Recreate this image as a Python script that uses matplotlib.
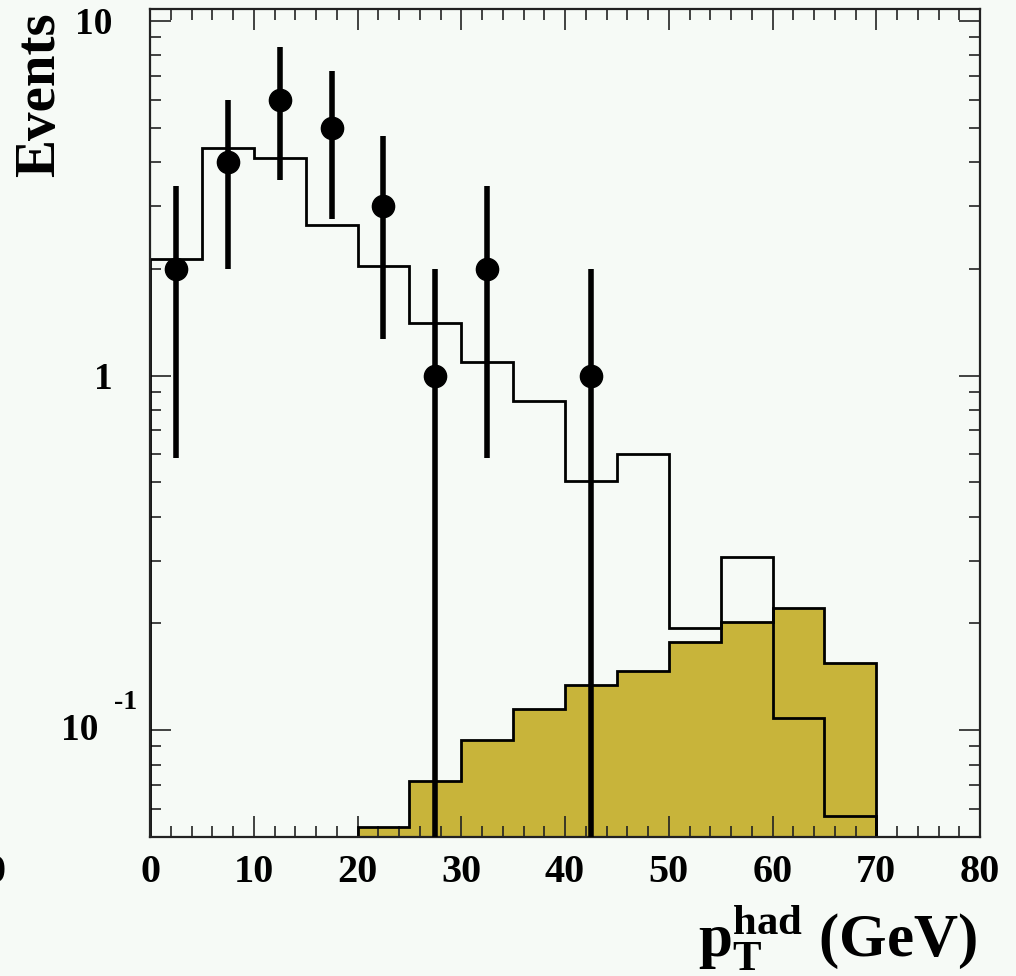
import numpy as np
import matplotlib.pyplot as plt
from matplotlib import transforms
from matplotlib.ticker import MultipleLocator, LogLocator, NullFormatter

plt.rcParams['font.family'] = 'Liberation Serif'
plt.rcParams['font.weight'] = 'bold'
plt.rcParams['mathtext.fontset'] = 'custom'
plt.rcParams['mathtext.rm'] = 'Liberation Serif:bold'
plt.rcParams['mathtext.bf'] = 'Liberation Serif:bold'
plt.rcParams['mathtext.it'] = 'Liberation Serif:bold'

# histogram bin edges (GeV)
edges = np.arange(0, 75, 5)

# simulation, open histogram
mc_total = [2.13, 4.39, 4.11, 2.65, 2.03, 1.41, 1.095, 0.85, 0.503, 0.599,
            0.194, 0.307, 0.108, 0.0573]
# filled histogram
mc_fill = [0.0, 0.0, 0.0, 0.0, 0.0533, 0.0718, 0.0937, 0.1147, 0.134, 0.1466,
           0.177, 0.2016, 0.2207, 0.1544]

# data points
x_data = [2.5, 7.5, 12.5, 17.5, 22.5, 27.5, 32.5, 42.5]
n_data = [2, 4, 6, 5, 3, 1, 2, 1]

bg = '#f6faf6'
gold = '#c8b43a'

fig = plt.figure(figsize=(10.16, 9.76), dpi=100, facecolor=bg)
ax = fig.add_axes([150/1016, 1-837/976, 830/1016, 828/976], facecolor=bg)
ax.set_yscale('log')

fill_vals = np.array(mc_fill)
fill_vals[fill_vals <= 0] = 1e-4
ax.stairs(fill_vals, edges, baseline=1e-4, fill=True, facecolor=gold,
          edgecolor='none', zorder=1)
ax.stairs(fill_vals, edges, baseline=1e-4, fill=False, color='black', lw=2, zorder=2)
ax.stairs(mc_total, edges, baseline=1e-4, fill=False, color='black', lw=2, zorder=2)

n = np.array(n_data, dtype=float)
err = np.sqrt(n)
low = np.maximum(n - err, 1e-4)
ax.errorbar(x_data, n, yerr=[n - low, err], fmt='o', color='black',
            ms=16, elinewidth=4, capsize=0, zorder=3)

ax.set_xlim(0, 80)
ax.set_ylim(0.05, 10.8)

ax.xaxis.set_major_locator(MultipleLocator(10))
ax.xaxis.set_minor_locator(MultipleLocator(2))
ax.yaxis.set_major_locator(LogLocator(base=10))
ax.yaxis.set_minor_locator(LogLocator(base=10, subs=np.arange(2, 10)))
ax.yaxis.set_minor_formatter(NullFormatter())
ax.set_yticks([0.1, 1, 10])
ax.set_yticklabels(['', '1', '10'])

ax.tick_params(which='both', direction='in', top=True, right=True, width=1.2, color='#222222')
ax.tick_params(which='major', length=15)
ax.tick_params(which='minor', length=8)
ax.tick_params(axis='x', labelsize=29, pad=12)
ax.tick_params(axis='y', labelsize=27, pad=27)
for s in ax.spines.values():
    s.set_linewidth(1.6)
    s.set_color('#222222')

# 10^-1 label: "10" with a raised "-1" to its right
tr = transforms.blended_transform_factory(ax.transAxes, ax.transData)
ax.text(-52/830, 0.1, '10', transform=tr, ha='right', va='center', fontsize=27)
tr_up = transforms.offset_copy(tr, fig=fig, x=0, y=21, units='dots')
ax.text(-36/830, 0.1, '-1', transform=tr_up, ha='left', va='baseline', fontsize=20)

fig.text(977/1016, 1-957/976, r'$\mathbf{p}_{\mathbf{T}}^{\mathbf{had}}$ (GeV)',
         ha='right', va='baseline', fontsize=44, fontweight='bold')
fig.text(40/1016, 1-12/976, 'Events', rotation=90, ha='center', va='top',
         fontsize=41, fontweight='bold')
fig.text(-0.004, 1-873/976, '0', ha='center', va='center', fontsize=29, fontweight='bold')

fig.savefig('out.png', dpi=100, facecolor=bg)
